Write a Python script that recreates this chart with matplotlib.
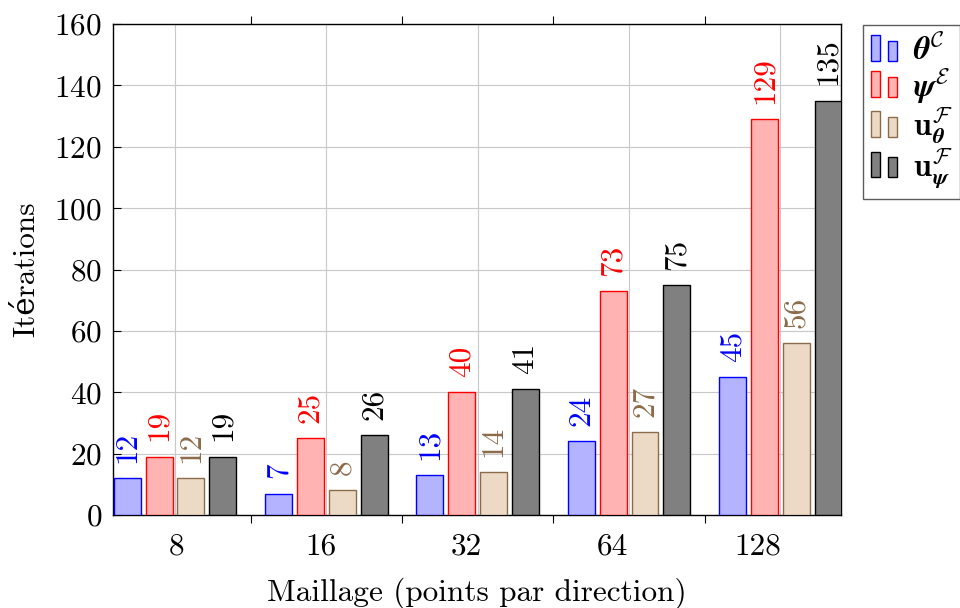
import matplotlib
matplotlib.use("Agg")
import matplotlib.pyplot as plt
from matplotlib.patches import Rectangle
from matplotlib.legend_handler import HandlerBase
import numpy as np

plt.rcParams['font.family'] = ['cmr10', 'DejaVu Serif']
plt.rcParams['mathtext.fontset'] = 'cm'
plt.rcParams['axes.formatter.use_mathtext'] = True

categories = ['8', '16', '32', '64', '128']
theta_C = [12, 7, 13, 24, 45]
psi_E = [19, 25, 40, 73, 129]
u_theta_F = [12, 8, 14, 27, 56]
u_psi_F = [19, 26, 41, 75, 135]
series_labels = [r'$\boldsymbol{\theta}^{\mathcal{C}}$', r'$\boldsymbol{\psi}^{\mathcal{E}}$',
                 r'$\mathbf{u}_{\boldsymbol{\theta}}^{\mathcal{F}}$', r'$\mathbf{u}_{\boldsymbol{\psi}}^{\mathcal{F}}$']
series = [theta_C, psi_E, u_theta_F, u_psi_F]
faces = ['#B3B3FF', '#FFB3B3', '#ECD9C6', '#808080']
edges = ['#0000FF', '#FF0000', '#8C6B4A', '#000000']
txtcol = ['#0000FF', '#FF0000', '#8C6B4A', '#000000']

FS = 22.5

fig = plt.figure(figsize=(9.6, 6.08), dpi=100)
ax = fig.add_axes([113/960, 1-515/608, (841-113)/960, (515-24)/608])

x = np.arange(len(categories))
offsets = [-0.316, -0.105, 0.105, 0.316]
width = 0.178
handles = []
for vals, off, fc, ec, tc, lab in zip(series, offsets, faces, edges, txtcol, series_labels):
    bars = ax.bar(x + off, vals, width, facecolor=fc, edgecolor=ec, linewidth=1.0, zorder=3, label=lab)
    handles.append(bars[0])
    for xi, v in zip(x + off, vals):
        ax.annotate(str(v), (xi, v), xytext=(0, 11), textcoords='offset points',
                    rotation=90, ha='center', va='bottom', color=tc, fontsize=FS, zorder=4,
                    annotation_clip=False)

ax.set_xlim(-0.41, 4.40)
ax.set_ylim(0, 160)
ax.set_yticks(np.arange(0, 161, 20))
# category labels (placed slightly left of the group centres, as in the reference)
ax.set_xticks(x * 0.96 + 0.007)
ax.set_xticklabels(categories)
ax.set_xticks([0.5, 1.5, 2.5, 3.5], minor=True)
ax.tick_params(axis='x', which='major', length=0, labelsize=FS, pad=13)
ax.tick_params(axis='x', which='minor', length=6, width=0.8, direction='out', top=True, bottom=True)
ax.tick_params(axis='y', which='major', length=6, width=0.8, direction='in', left=True, right=False, labelsize=FS, pad=8)
ax.grid(True, axis='y', which='major', color='#C8C8C8', linewidth=0.8, zorder=0)
for xi in x:
    ax.axvline(xi, color='#C8C8C8', linewidth=0.8, zorder=0)
ax.set_axisbelow(True)
for s in ax.spines.values():
    s.set_linewidth(1.0)
ax.set_xlabel('Maillage (points par direction)', fontsize=FS, labelpad=12)
ax.set_ylabel('Itérations', fontsize=FS, labelpad=10)


class HandlerTwoBars(HandlerBase):
    def create_artists(self, legend, orig_handle, xdescent, ydescent, width, height, fontsize, trans):
        fc = orig_handle.get_facecolor()
        ec = orig_handle.get_edgecolor()
        w = width * 0.37
        y0 = -ydescent - 0.05 * height
        r1 = Rectangle((-xdescent, y0), w, 1.16 * height, facecolor=fc, edgecolor=ec, lw=1.0, transform=trans)
        r2 = Rectangle((-xdescent + width * 0.66, y0), w, 0.9 * height, facecolor=fc, edgecolor=ec, lw=1.0, transform=trans)
        return [r1, r2]


leg = fig.legend(handles, series_labels, handler_map={h: HandlerTwoBars() for h in handles},
                 loc='upper left', bbox_to_anchor=(863/960, 1-25/608), fontsize=23,
                 frameon=True, fancybox=False, edgecolor='#333333', handlelength=0.8,
                 handletextpad=0.5, borderpad=0.25, labelspacing=0.0, borderaxespad=0)
leg.get_frame().set_linewidth(1.0)

fig.savefig('out.png', dpi=100)
